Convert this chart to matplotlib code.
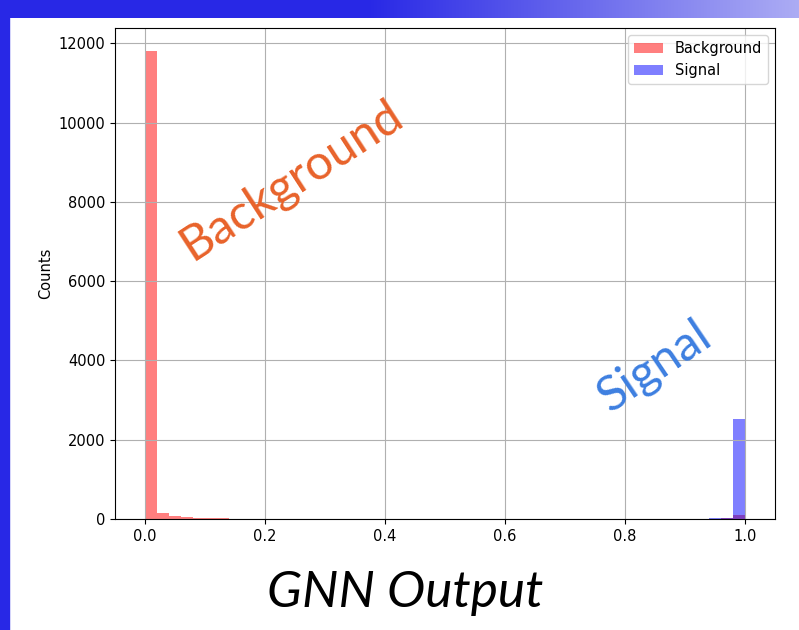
import numpy as np
import matplotlib.pyplot as plt
from matplotlib.patches import Rectangle

# histogram of GNN output, 50 bins in [0, 1]
bin_edges = np.linspace(0, 1, 51)
background_counts = [11800, 150, 70, 40, 20, 35, 30, 8, 6, 5,
                     4, 4, 3, 3, 3, 2, 2, 2, 2, 2,
                     2, 2, 2, 2, 2, 2, 2, 2, 2, 2,
                     2, 2, 2, 2, 2, 2, 2, 2, 2, 2,
                     3, 3, 3, 4, 4, 5, 6, 10, 20, 90]
signal_counts = [2, 1, 1, 1, 1, 1, 1, 1, 1, 1,
                 1, 1, 1, 1, 1, 1, 1, 1, 1, 1,
                 1, 1, 1, 1, 1, 1, 1, 1, 1, 1,
                 1, 1, 1, 1, 1, 1, 1, 1, 1, 1,
                 1, 2, 2, 2, 3, 4, 6, 15, 30, 2520]

plt.rcParams['font.size'] = 10.5

fig = plt.figure(figsize=(7.99, 6.30), dpi=100)

# slide decoration: gradient band on top, bar on the left
dark = np.array([0x28, 0x28, 0xE6]) / 255
light = np.array([0xAC, 0xAC, 0xF4]) / 255
xs = np.linspace(0, 1, 799)
t = np.clip((xs - 0.46) / 0.54, 0, 1)[:, None]
grad = (dark * (1 - t) + light * t)[None, :, :]
band = fig.add_axes([0, 1 - 18 / 630, 1, 18 / 630])
band.imshow(grad, aspect='auto', extent=[0, 1, 0, 1])
band.axis('off')
fig.add_artist(Rectangle((0, 0), 9 / 799, 1, transform=fig.transFigure,
                         color=dark, zorder=0))

ax = fig.add_axes([115 / 799, 1 - 519 / 630, 660 / 799, (519 - 28) / 630])
ax.bar(bin_edges[:-1], background_counts, width=0.02, align='edge',
       color='red', alpha=0.5, label='Background')
ax.bar(bin_edges[:-1], signal_counts, width=0.02, align='edge',
       color='blue', alpha=0.5, label='Signal')
ax.set_xlim(-0.05, 1.05)
ax.set_ylim(0, 12390)
ax.set_ylabel('Counts')
ax.grid(True)
ax.legend(loc='upper right')

fig.text(0.364, 0.715, 'Background', family='Lato', fontsize=35,
         color='#E8622A', rotation=33, ha='center', va='center',
         rotation_mode='anchor')
fig.text(0.8185, 0.419, 'Signal', family='Lato', fontsize=35,
         color='#3D7FE0', rotation=34, ha='center', va='center',
         rotation_mode='anchor')
fig.text(0.507, 0.0587, 'GNN Output', family='Lato', style='italic',
         fontsize=37, color='black', ha='center', va='center')

fig.savefig('out.png', dpi=100)
